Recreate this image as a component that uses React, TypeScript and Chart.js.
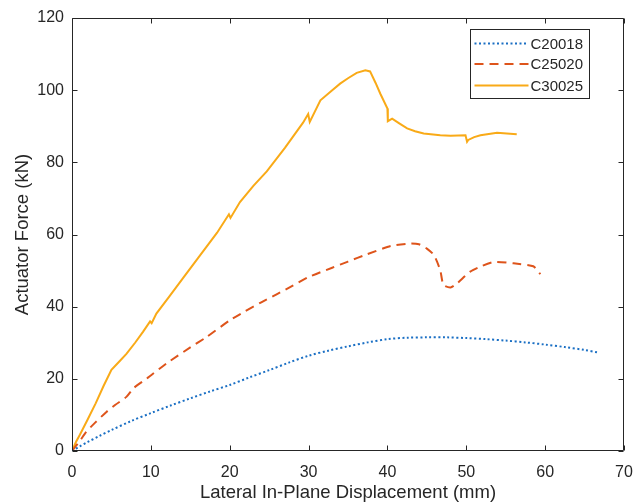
import React, { useEffect, useRef } from "react";
import { Chart, registerables } from "chart.js";

Chart.register(...registerables);

const seriesNames = ["C20018", "C25020", "C30025"];

const c20018X = [0, 1, 2, 3.5, 5, 7.5, 10, 12.5, 15, 17.5, 20, 22.5, 25, 27.5, 30, 32.5, 35, 37.5, 40, 42.5, 45, 47.5, 50, 52.5, 55, 57.5, 60, 62.5, 65, 66.7];
const c20018Y = [0, 1.3, 2.5, 4.2, 5.8, 8.3, 10.5, 12.6, 14.6, 16.5, 18.3, 20.4, 22.4, 24.5, 26.4, 27.8, 29.0, 30.1, 31.0, 31.4, 31.5, 31.5, 31.3, 31.0, 30.6, 30.1, 29.5, 28.8, 28.0, 27.3];

const c25020X = [0, 1, 1.8, 3, 4.4, 5.5, 6.9, 7.8, 9.5, 12, 15, 17, 20, 22, 24, 26, 28, 30, 33, 35, 37.4, 40.4, 42.9, 44, 45, 45.9, 46.7, 47.1, 48, 48.8, 50.5, 52, 53.5, 56, 58.5, 59.4];
const c25020Y = [0, 2.8, 5.3, 8, 10.9, 12.8, 15, 17.4, 20.1, 24.3, 28.7, 31.5, 36.2, 38.8, 41.2, 43.5, 45.8, 48.2, 50.8, 52.5, 54.5, 56.8, 57.5, 57.3, 56.1, 54.3, 50.1, 46, 45.3, 46.4, 49.7, 51.3, 52.4, 52.0, 51.2, 49.0];

const c30025X = [0, 0.5, 1, 2, 3, 4, 5, 6, 6.9, 8, 9, 9.9, 10.1, 10.7, 12.4, 14.1, 16, 18.4, 19.9, 20.1, 21.3, 23, 24.7, 27, 29.3, 29.95, 30.15, 31.5, 33, 34, 35, 36.1, 37.2, 37.8, 38.5, 39.1, 40.0, 40.05, 40.6, 41.5, 42.5, 43.5, 44.6, 46.7, 48, 49.9, 50.1, 50.25, 51, 51.8, 53.9, 56.4];
const c30025Y = [0, 2.5, 4.5, 8.8, 13.2, 18, 22.5, 24.8, 26.9, 30, 33, 35.9, 35.4, 38.1, 43, 48, 53.5, 60.5, 65.6, 64.6, 69, 73.5, 77.5, 84, 91, 93.4, 91.2, 97.2, 100, 101.8, 103.3, 104.8, 105.5, 105.2, 102, 99, 94.9, 91.4, 92.1, 90.8, 89.4, 88.6, 88.0, 87.5, 87.4, 87.5, 85.7, 86.2, 87.0, 87.5, 88.2, 87.8];

const xTicksStep = 10;
const yTicksStep = 20;
const xTitle = "Lateral In-Plane Displacement (mm)";
const yTitle = "Actuator Force (kN)";

const toPoints = (xs: number[], ys: number[]) => xs.map((x, i) => ({ x, y: ys[i] }));

const AXIS_COLOR = "#262626";
const FONT = "'Liberation Sans', Arial, Helvetica, sans-serif";

const boxPlugin = {
  id: "matBox",
  afterDatasetsDraw(chart: any) {
    const { ctx, chartArea, scales } = chart;
    const { left, right, top, bottom } = chartArea;
    ctx.save();
    ctx.strokeStyle = AXIS_COLOR;
    ctx.lineWidth = 1;
    ctx.setLineDash([]);
    const L = Math.round(left) + 0.5;
    const R = Math.round(right) - 0.5;
    const T = Math.round(top) + 0.5;
    const B = Math.round(bottom) - 0.5;
    ctx.beginPath();
    ctx.rect(L, T, R - L, B - T);
    ctx.stroke();
    const tl = 5;
    ctx.beginPath();
    scales.x.ticks.forEach((t: any) => {
      const px = Math.round(scales.x.getPixelForValue(t.value)) + 0.5;
      ctx.moveTo(px, B);
      ctx.lineTo(px, B - tl);
      ctx.moveTo(px, T);
      ctx.lineTo(px, T + tl);
    });
    scales.y.ticks.forEach((t: any) => {
      const py = Math.round(scales.y.getPixelForValue(t.value)) + 0.5;
      ctx.moveTo(L, py);
      ctx.lineTo(L + tl, py);
      ctx.moveTo(R, py);
      ctx.lineTo(R - tl, py);
    });
    ctx.stroke();
    ctx.restore();
  },
};

const legendPlugin = {
  id: "matLegend",
  afterDraw(chart: any) {
    const { ctx, chartArea } = chart;
    const w = 119;
    const h = 69;
    const x0 = Math.round(chartArea.right - 35 - w) + 0.5;
    const y0 = Math.round(chartArea.top + 11) + 0.5;
    ctx.save();
    ctx.fillStyle = "#ffffff";
    ctx.fillRect(x0, y0, w, h);
    ctx.strokeStyle = AXIS_COLOR;
    ctx.lineWidth = 1;
    ctx.setLineDash([]);
    ctx.strokeRect(x0, y0, w, h);
    const rows = [14, 34.5, 56];
    chart.data.datasets.forEach((ds: any, i: number) => {
      const cy = y0 + rows[i];
      ctx.save();
      ctx.strokeStyle = ds.borderColor;
      ctx.lineWidth = ds.borderWidth;
      ctx.setLineDash(ds.borderDash || []);
      ctx.beginPath();
      ctx.moveTo(x0 + 4, cy);
      ctx.lineTo(x0 + 58, cy);
      ctx.stroke();
      ctx.restore();
      ctx.fillStyle = AXIS_COLOR;
      ctx.font = `15px ${FONT}`;
      ctx.textBaseline = "middle";
      ctx.textAlign = "left";
      ctx.fillText(ds.label, x0 + 60, cy + 1);
    });
    ctx.restore();
  },
};

export default function App() {
  const ref = useRef<HTMLCanvasElement | null>(null);

  useEffect(() => {
    if (!ref.current) return;
    const chart = new Chart(ref.current, {
      type: "scatter",
      data: {
        datasets: [
          {
            label: seriesNames[0],
            data: toPoints(c20018X, c20018Y),
            showLine: true,
            borderColor: "#1A6FC4",
            borderWidth: 2,
            borderDash: [2, 2.5],
            pointRadius: 0,
            fill: false,
            tension: 0.3,
          },
          {
            label: seriesNames[1],
            data: toPoints(c25020X, c25020Y),
            showLine: true,
            borderColor: "#DE541B",
            borderWidth: 2,
            borderDash: [9, 6],
            pointRadius: 0,
            fill: false,
            tension: 0.2,
          },
          {
            label: seriesNames[2],
            data: toPoints(c30025X, c30025Y),
            showLine: true,
            borderColor: "#F9AA17",
            borderWidth: 2,
            pointRadius: 0,
            fill: false,
            tension: 0,
          },
        ],
      },
      options: {
        responsive: false,
        animation: false,
        layout: { padding: { top: 18, right: 10, left: 0, bottom: 0 } },
        plugins: {
          legend: { display: false },
          tooltip: { enabled: false },
        },
        scales: {
          x: {
            type: "linear",
            min: 0,
            max: 70,
            ticks: {
              stepSize: xTicksStep,
              color: AXIS_COLOR,
              font: { family: FONT, size: 16 },
              padding: 12,
              maxRotation: 0,
            },
            grid: { display: false, drawTicks: false },
            border: { display: false },
            title: {
              display: true,
              text: xTitle,
              color: AXIS_COLOR,
              font: { family: FONT, size: 18.5 },
              padding: { top: 0, bottom: -1 },
            },
            afterFit: (scale: any) => {
              scale.height = 52;
              scale.paddingLeft = 0;
              scale.paddingRight = 0;
            },
          },
          y: {
            type: "linear",
            min: 0,
            max: 120,
            ticks: {
              stepSize: yTicksStep,
              color: AXIS_COLOR,
              font: { family: FONT, size: 16 },
              padding: 8,
            },
            grid: { display: false, drawTicks: false },
            border: { display: false },
            title: {
              display: true,
              text: yTitle,
              color: AXIS_COLOR,
              font: { family: FONT, size: 18.5 },
              padding: { top: 12, bottom: 0 },
            },
            afterFit: (scale: any) => {
              scale.width = 72;
              scale.paddingTop = 0;
              scale.paddingBottom = 0;
            },
          },
        },
      },
      plugins: [boxPlugin, legendPlugin],
    });
    return () => chart.destroy();
  }, []);

  return (
    <div style={{ position: "absolute", left: 0, top: 0, width: 634, height: 503, background: "#fff" }}>
      <canvas ref={ref} width={634} height={503} style={{ display: "block" }} />
    </div>
  );
}
